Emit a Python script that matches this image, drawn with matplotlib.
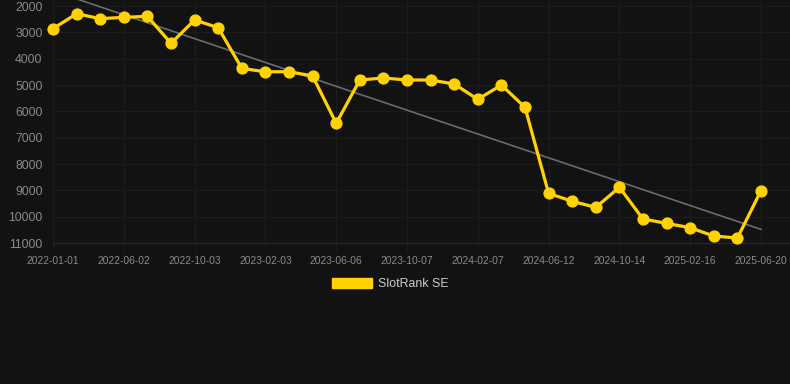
import matplotlib
matplotlib.use("Agg")
import matplotlib.pyplot as plt
import numpy as np
from matplotlib.patches import Patch

# ---- data ----
tick_labels = ["2022-01-01", "2022-06-02", "2022-10-03", "2023-02-03", "2023-06-06",
               "2023-10-07", "2024-02-07", "2024-06-12", "2024-10-14", "2025-02-16",
               "2025-06-20"]
rank_values = [2862, 2292, 2482, 2430, 2392, 3418, 2532, 2823, 4367, 4500,
               4494, 4658, 6456, 4810, 4734, 4810, 4810, 4962, 5544, 5000,
               5848, 9114, 9418, 9646, 8886, 10089, 10253, 10420, 10735, 10811,
               9013]
series_name = "SlotRank SE"
y_ticks = [2000, 3000, 4000, 5000, 6000, 7000, 8000, 9000, 10000, 11000]

# ---- style ----
BG = "#121212"
GRID = "#1c1c1c"
YELLOW = "#FFD200"
LABEL = "#8a8a8a"

plt.rcParams['font.family'] = ['Liberation Sans', 'DejaVu Sans']

fig = plt.figure(figsize=(7.9, 3.84), dpi=100, facecolor=BG)
ax = fig.add_axes([53/790, 141/384, 737/790, 243/384])
ax.set_facecolor(BG)

x = np.arange(len(rank_values))
vals = np.array(rank_values, dtype=float)

# trend line (linear regression)
coef = np.polyfit(x, vals, 1)
ax.plot(x, np.polyval(coef, x), color="#6b6b6b", lw=1.2, zorder=2)

ax.plot(x, vals, color=YELLOW, lw=2.3, marker="o", markersize=7.8,
        markerfacecolor=YELLOW, markeredgecolor=YELLOW, zorder=3, clip_on=False)

ax.set_ylim(11000, 2000 - 6/26.33*1000)
px_per_idx = (761 - 53) / 30
ax.set_xlim(0, 30 + (790 - 761) / px_per_idx)

ax.set_yticks(y_ticks)
ax.set_yticklabels([str(v) for v in y_ticks])
tick_pos = x[::3]
ax.set_xticks(tick_pos)
ax.set_xticklabels(tick_labels)

ax.grid(True, color=GRID, lw=1)
ax.set_axisbelow(True)
for s in ["top", "right", "left"]:
    ax.spines[s].set_visible(False)
ax.spines["bottom"].set_color("#2a2a2a")
ax.tick_params(axis="y", length=0, pad=7.5, labelsize=8.8, labelcolor=LABEL)
ax.tick_params(axis="x", length=6, width=0.8, color=GRID, pad=3, labelsize=7.4, labelcolor=LABEL)

leg = fig.legend(handles=[Patch(facecolor=YELLOW, edgecolor=YELLOW, label=series_name)],
                 loc="center", bbox_to_anchor=(390.5/790, 1 - 284/384),
                 frameon=False, fontsize=8.9, handlelength=3.2, handleheight=0.95,
                 handletextpad=0.5, borderpad=0)
for t in leg.get_texts():
    t.set_color("#cccccc")

fig.savefig("out.png", dpi=100, facecolor=BG)
